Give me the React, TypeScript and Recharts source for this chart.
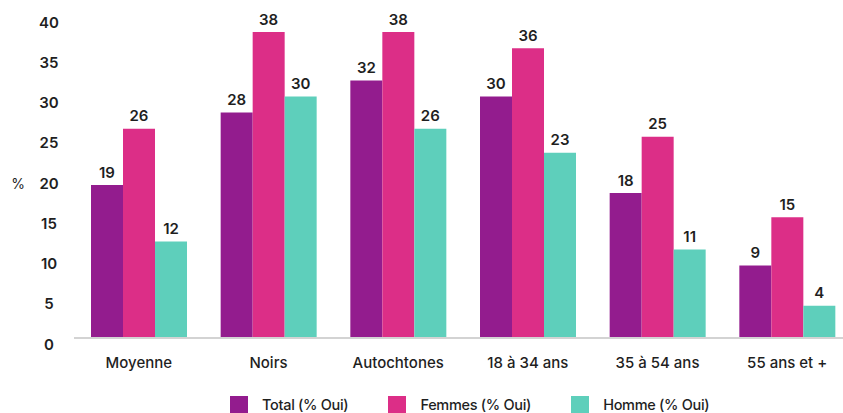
import React from 'react';
import { BarChart, Bar, XAxis, YAxis, LabelList } from 'recharts';

const categories = ['Moyenne', 'Noirs', 'Autochtones', '18 à 34 ans', '35 à 54 ans', '55 ans et +'];
const totalValues = [19, 28, 32, 30, 18, 9];
const femmesValues = [26, 38, 38, 36, 25, 15];
const hommeValues = [12, 30, 26, 23, 11, 4];
const yTicks = [0, 5, 10, 15, 20, 25, 30, 35, 40];

const SERIES = [
  { key: 'total', name: 'Total (% Oui)', color: '#931c8e' },
  { key: 'femmes', name: 'Femmes (% Oui)', color: '#dc2e87' },
  { key: 'homme', name: 'Homme (% Oui)', color: '#5ecfbb' },
];

const data = categories.map((cat, i) => ({
  cat,
  total: totalValues[i],
  femmes: femmesValues[i],
  homme: hommeValues[i],
}));

const FONT = 'Inter, "Noto Sans", sans-serif';

const YTick = (props: any) => (
  <text x={49} y={props.y + 6} textAnchor="middle" dominantBaseline="central"
    fontFamily={FONT} fontSize={15} fontWeight={600} fill="#1f1f1f">
    {props.payload.value}
  </text>
);

const XTick = (props: any) => (
  <text x={props.x} y={props.y + 24} textAnchor="middle" dominantBaseline="central"
    fontFamily={FONT} fontSize={15} fontWeight={500} fill="#1f1f1f">
    {props.payload.value}
  </text>
);

const renderValue = (props: any) => {
  const { x, y, width, value } = props;
  return (
    <text x={x + width / 2} y={y - 13} textAnchor="middle" dominantBaseline="central"
      fontFamily={FONT} fontSize={15} fontWeight={600} fill="#1f1f1f">
      {value}
    </text>
  );
};

export default function App() {
  return (
    <div style={{ position: 'absolute', left: 0, top: 0, width: 843, height: 413, overflow: 'hidden', background: '#fff' }}>
      <BarChart width={860} height={413} data={data} barGap={0}
        margin={{ top: 16, right: 8, left: 0, bottom: 0 }}>
        <XAxis dataKey="cat" height={75} tick={<XTick />} tickLine={false} tickSize={0} tickMargin={0}
          axisLine={{ stroke: '#d3d3d3', strokeWidth: 2 }} interval={0} />
        <YAxis width={74} domain={[0, 40]} ticks={yTicks} tick={<YTick />} axisLine={false}
          tickLine={false} tickSize={0} tickMargin={0}
          label={({ viewBox }: any) => (
            <text x={18} y={viewBox.y + viewBox.height / 2 + 6} textAnchor="middle" dominantBaseline="central"
              fontFamily={FONT} fontSize={14} fill="#1f1f1f">%</text>
          )} />
        {SERIES.map(s => (
          <Bar key={s.key} dataKey={s.key} name={s.name} fill={s.color} barSize={32} isAnimationActive={false}>
            <LabelList dataKey={s.key} content={renderValue} />
          </Bar>
        ))}
      </BarChart>
      {/* legend row under the axis */}
      <div style={{ position: 'absolute', left: 230, top: 396, display: 'flex', alignItems: 'flex-start', fontFamily: FONT }}>
        {SERIES.map((s, i) => (
          <div key={s.key} style={{ display: 'flex', alignItems: 'flex-start', marginRight: i < SERIES.length - 1 ? 40 : 0 }}>
            <span style={{ width: 18, height: 18, background: s.color, display: 'inline-block' }} />
            <span style={{ marginLeft: 14, fontSize: 14.5, fontWeight: 500, color: '#1f1f1f', lineHeight: '18px', letterSpacing: -0.3 }}>
              {s.name}
            </span>
          </div>
        ))}
      </div>
    </div>
  );
}
